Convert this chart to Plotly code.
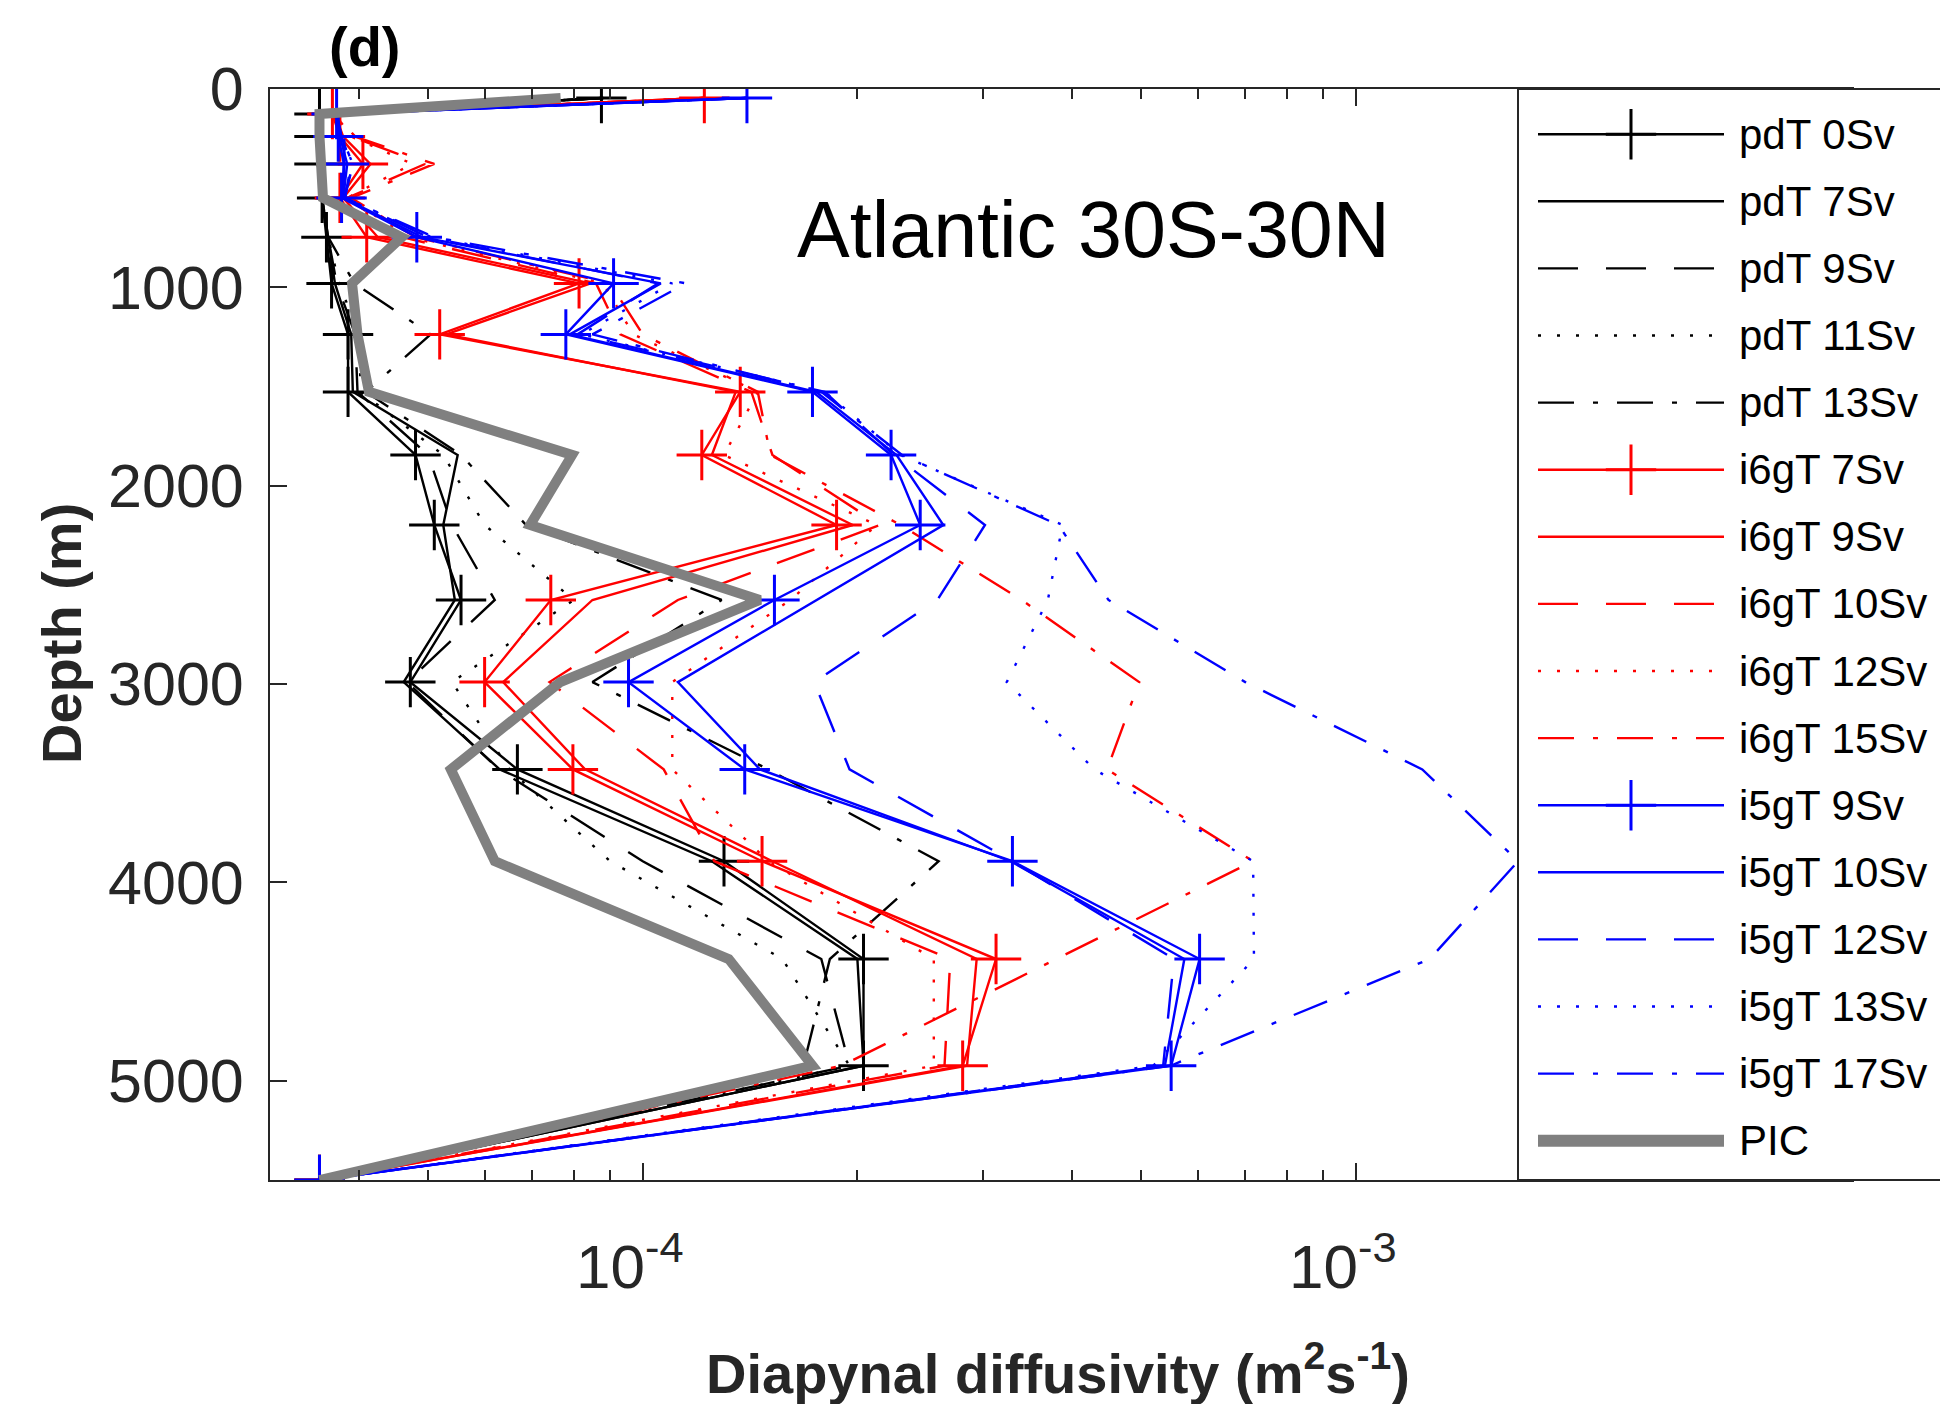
import math
import plotly.graph_objects as go

# ---------------- data ----------------
DEPTH_M = [45, 126, 240, 378, 549, 747, 980, 1237, 1527, 1845, 2198, 2576, 2990, 3430, 3893, 4386, 4924, 5500]

PDT_0SV = [8.75e-5, 3.52e-5, 3.52e-5, 3.52e-5, 3.55e-5, 3.60e-5, 3.66e-5, 3.86e-5, 3.86e-5, 4.80e-5, 5.10e-5, 5.56e-5, 4.72e-5, 6.67e-5, 1.30e-4, 2.04e-4, 2.04e-4, 3.52e-5]
PDT_7SV = [8.80e-5, 3.50e-5, 3.50e-5, 3.50e-5, 3.55e-5, 3.62e-5, 3.70e-5, 3.90e-5, 3.92e-5, 5.50e-5, 5.25e-5, 5.45e-5, 4.62e-5, 6.30e-5, 1.25e-4, 2.00e-4, 2.04e-4, 3.52e-5]
PDT_9SV = [8.80e-5, 3.50e-5, 3.50e-5, 3.50e-5, 3.55e-5, 3.62e-5, 3.72e-5, 3.95e-5, 3.98e-5, 5.00e-5, 5.40e-5, 6.20e-5, 4.67e-5, 6.28e-5, 1.00e-4, 1.78e-4, 1.95e-4, 3.52e-5]
PDT_11SV = [8.80e-5, 3.50e-5, 3.50e-5, 3.50e-5, 3.55e-5, 3.62e-5, 3.75e-5, 4.00e-5, 4.02e-5, 5.25e-5, 6.00e-5, 8.00e-5, 5.40e-5, 6.50e-5, 9.00e-5, 1.57e-4, 1.95e-4, 3.52e-5]
PDT_13SV = [8.80e-5, 3.50e-5, 3.50e-5, 3.50e-5, 3.55e-5, 3.62e-5, 3.94e-5, 5.04e-5, 4.09e-5, 5.56e-5, 6.86e-5, 1.29e-4, 8.50e-5, 1.50e-4, 2.60e-4, 1.83e-4, 1.68e-4, 3.52e-5]

I6GT_7SV = [1.22e-4, 3.67e-5, 3.76e-5, 4.05e-5, 3.76e-5, 4.10e-5, 8.14e-5, 5.19e-5, 1.37e-4, 1.21e-4, 1.87e-4, 7.43e-5, 6.00e-5, 7.98e-5, 1.47e-4, 3.13e-4, 2.81e-4, 3.52e-5]
I6GT_9SV = [1.22e-4, 3.70e-5, 3.80e-5, 4.15e-5, 3.80e-5, 4.25e-5, 8.45e-5, 5.30e-5, 1.35e-4, 1.25e-4, 1.97e-4, 8.50e-5, 6.37e-5, 8.30e-5, 1.52e-4, 2.94e-4, 2.85e-4, 3.52e-5]
I6GT_10SV = [1.22e-4, 3.70e-5, 3.90e-5, 4.95e-5, 3.85e-5, 4.60e-5, 8.60e-5, 9.30e-5, 1.42e-4, 1.52e-4, 2.15e-4, 1.12e-4, 7.40e-5, 1.07e-4, 1.26e-4, 2.70e-4, 2.65e-4, 3.52e-5]
I6GT_12SV = [1.22e-4, 3.70e-5, 3.90e-5, 4.75e-5, 3.85e-5, 4.70e-5, 8.80e-5, 9.70e-5, 1.45e-4, 1.30e-4, 2.13e-4, 1.61e-4, 1.10e-4, 1.10e-4, 1.50e-4, 2.56e-4, 2.56e-4, 3.52e-5]
I6GT_15SV = [1.22e-4, 3.70e-5, 3.95e-5, 5.10e-5, 3.90e-5, 4.80e-5, 9.00e-5, 1.00e-4, 1.45e-4, 1.51e-4, 2.30e-4, 3.40e-4, 4.97e-4, 4.48e-4, 7.18e-4, 3.80e-4, 1.90e-4, 3.52e-5]

I5GT_9SV = [1.40e-4, 3.72e-5, 3.74e-5, 3.81e-5, 3.78e-5, 4.82e-5, 9.10e-5, 7.80e-5, 1.73e-4, 2.23e-4, 2.45e-4, 1.53e-4, 9.55e-5, 1.39e-4, 3.30e-4, 6.04e-4, 5.51e-4, 3.52e-5]
I5GT_10SV = [1.40e-4, 3.72e-5, 3.76e-5, 3.85e-5, 3.80e-5, 4.90e-5, 1.06e-4, 7.90e-5, 1.75e-4, 2.27e-4, 2.64e-4, 1.75e-4, 1.12e-4, 1.46e-4, 3.28e-4, 5.75e-4, 5.40e-4, 3.52e-5]
I5GT_12SV = [1.40e-4, 3.72e-5, 3.78e-5, 3.90e-5, 3.82e-5, 5.00e-5, 1.05e-4, 8.10e-5, 1.80e-4, 2.25e-4, 3.02e-4, 2.59e-4, 1.74e-4, 1.95e-4, 3.30e-4, 5.56e-4, 5.37e-4, 3.52e-5]
I5GT_13SV = [1.40e-4, 3.72e-5, 3.78e-5, 3.92e-5, 3.82e-5, 5.05e-5, 1.10e-4, 8.20e-5, 1.80e-4, 2.30e-4, 3.88e-4, 3.70e-4, 3.24e-4, 4.30e-4, 7.18e-4, 7.20e-4, 5.20e-4, 3.52e-5]
I5GT_17SV = [1.40e-4, 3.72e-5, 3.78e-5, 3.92e-5, 3.82e-5, 5.10e-5, 1.15e-4, 8.50e-5, 1.78e-4, 2.31e-4, 3.83e-4, 4.50e-4, 7.00e-4, 1.24e-3, 1.69e-3, 1.27e-3, 5.50e-4, 3.52e-5]

PIC = [7.67e-5, 3.52e-5, 3.52e-5, 3.54e-5, 3.56e-5, 4.59e-5, 3.91e-5, 3.98e-5, 4.13e-5, 7.96e-5, 6.95e-5, 1.46e-4, 7.66e-5, 5.38e-5, 6.20e-5, 1.32e-4, 1.73e-4, 3.52e-5]

SERIES_NAMES = ["pdT 0Sv", "pdT 7Sv", "pdT 9Sv", "pdT 11Sv", "pdT 13Sv",
                "i6gT 7Sv", "i6gT 9Sv", "i6gT 10Sv", "i6gT 12Sv", "i6gT 15Sv",
                "i5gT 9Sv", "i5gT 10Sv", "i5gT 12Sv", "i5gT 13Sv", "i5gT 17Sv", "PIC"]
SERIES_VALUES = [PDT_0SV, PDT_7SV, PDT_9SV, PDT_11SV, PDT_13SV,
                 I6GT_7SV, I6GT_9SV, I6GT_10SV, I6GT_12SV, I6GT_15SV,
                 I5GT_9SV, I5GT_10SV, I5GT_12SV, I5GT_13SV, I5GT_17SV, PIC]

X_MIN, X_MAX = 3e-5, 5e-3
Y_TICKS = [0, 1000, 2000, 3000, 4000, 5000]
X_TICKS = [1e-4, 1e-3]
X_TICK_TEXT = ["10<sup>-4</sup>", "10<sup>-3</sup>"]
X_MINOR = [4e-5, 5e-5, 6e-5, 7e-5, 8e-5, 9e-5, 2e-4, 3e-4, 4e-4, 5e-4, 6e-4, 7e-4, 8e-4, 9e-4]

# ---------------- styles ----------------
DASH = "40px,28px"
DOT = "3px,16px"
DASHDOT = "36px,19px,5px,19px"
BLACK, RED, BLUE, GRAY = "#000000", "#ff0000", "#0000ff", "#808080"
STYLES = [
    (BLACK, "solid", True), (BLACK, "solid", False), (BLACK, DASH, False), (BLACK, DOT, False), (BLACK, DASHDOT, False),
    (RED, "solid", True), (RED, "solid", False), (RED, DASH, False), (RED, DOT, False), (RED, DASHDOT, False),
    (BLUE, "solid", True), (BLUE, "solid", False), (BLUE, DASH, False), (BLUE, DOT, False), (BLUE, DASHDOT, False),
    (GRAY, "solid", False),
]
THIN = 2.4

# the page body has an 8 px margin: layout positions below are screen pixels minus that offset
OFF = 8
W, H = 1948 - 2 * OFF, 1412 - 2 * OFF
PL, PR, PT, PB = 270 - OFF, 1854 - OFF, 89 - OFF, 1180 - OFF   # plot area
LEG_X0 = 1518 - OFF                                           # legend box left edge
AX_COLOR = "#262626"
FONT = "Liberation Sans, Arial, Helvetica, sans-serif"


def px_x(x):
    return (x - PL) / (PR - PL)


def px_y(y):
    return (PB - y) / (PB - PT)


fig = go.Figure()

for name, vals, (color, dash, marker) in zip(SERIES_NAMES, SERIES_VALUES, STYLES):
    is_pic = name == "PIC"
    fig.add_trace(go.Scatter(
        x=vals, y=DEPTH_M, name=name,
        mode="lines+markers" if marker else "lines",
        line=dict(color=color, width=10 if is_pic else THIN, dash=dash),
        marker=dict(symbol="cross-thin", size=36, line=dict(color=color, width=3)) if marker else None,
        showlegend=False, xaxis="x", yaxis="y",
    ))

# ---------------- custom legend (long line samples) ----------------
LEG_LINE_X0, LEG_LINE_X1, LEG_TEXT_X = 1538 - OFF, 1724 - OFF, 1737 - OFF
LEG_Y0, LEG_DY = 134.2 - OFF, 67.1
for i, (name, (color, dash, marker)) in enumerate(zip(SERIES_NAMES, STYLES)):
    yy = LEG_Y0 + LEG_DY * i
    is_pic = name == "PIC"
    fig.add_trace(go.Scatter(
        x=[LEG_LINE_X0, LEG_LINE_X1], y=[yy, yy], mode="lines",
        line=dict(color=color, width=12 if is_pic else THIN, dash=dash),
        showlegend=False, hoverinfo="skip", xaxis="x2", yaxis="y2",
    ))
    if marker:
        fig.add_trace(go.Scatter(
            x=[(LEG_LINE_X0 + LEG_LINE_X1) / 2], y=[yy], mode="markers",
            marker=dict(symbol="cross-thin", size=36, line=dict(color=color, width=3)),
            showlegend=False, hoverinfo="skip", xaxis="x2", yaxis="y2",
        ))
    fig.add_annotation(x=LEG_TEXT_X, y=yy, xref="x2", yref="y2", text=name, showarrow=False,
                       xanchor="left", yanchor="middle", font=dict(family=FONT, size=42, color="#000000"))

fig.add_shape(type="rect", xref="paper", yref="paper", x0=px_x(LEG_X0), x1=px_x(W + 20), y0=0, y1=1,
              line=dict(color=AX_COLOR, width=2), fillcolor="white", layer="below")

# ---------------- x tick labels (slightly left of their ticks, as in the reference) ----------------
for v, t in zip(X_TICKS, X_TICK_TEXT):
    fig.add_annotation(x=math.log10(v), y=0, xref="x", yref="paper", text=t, showarrow=False,
                       xanchor="center", yanchor="top", xshift=-13, yshift=-41,
                       font=dict(family=FONT, size=62, color=AX_COLOR))

# ---------------- text ----------------
fig.add_annotation(x=px_x(365 - OFF), y=px_y(47 - OFF), xref="paper", yref="paper", text="<b>(d)</b>",
                   showarrow=False, xanchor="center", yanchor="middle",
                   font=dict(family=FONT, size=56, color="#000000"))
fig.add_annotation(x=px_x(1093 - OFF), y=px_y(230 - OFF), xref="paper", yref="paper", text="Atlantic 30S-30N",
                   showarrow=False, xanchor="center", yanchor="middle",
                   font=dict(family=FONT, size=79, color="#000000"))
fig.add_annotation(x=px_x(61 - OFF), y=px_y(634 - OFF), xref="paper", yref="paper", text="<b>Depth (m)</b>",
                   showarrow=False, textangle=-90, xanchor="center", yanchor="middle",
                   font=dict(family=FONT, size=56, color=AX_COLOR))
fig.add_annotation(x=px_x(1058 - OFF), y=px_y(1369 - OFF), xref="paper", yref="paper",
                   text="<b>Diapynal diffusivity (m<sup>2</sup>s<sup>-1</sup>)</b>", showarrow=False,
                   xanchor="center", yanchor="middle", font=dict(family=FONT, size=56, color=AX_COLOR))
fig.add_annotation(x=px_x(10 - OFF), y=px_y(1252 - OFF), xref="paper", yref="paper", text="0", showarrow=False,
                   xanchor="right", yanchor="middle", font=dict(family=FONT, size=60, color=AX_COLOR))

fig.update_layout(
    width=W, height=H,
    margin=dict(l=PL, r=W - PR, t=PT, b=H - PB, pad=0),
    paper_bgcolor="white", plot_bgcolor="rgba(0,0,0,0)",
    showlegend=False,
    xaxis=dict(type="log", range=[math.log10(X_MIN), math.log10(X_MAX)], domain=[0, 1],
               tickvals=X_TICKS, showticklabels=False, ticks="inside", ticklen=17, tickwidth=2,
               tickcolor=AX_COLOR, showline=True, linecolor=AX_COLOR, linewidth=2, mirror="ticks",
               showgrid=False, zeroline=False,
               minor=dict(tickvals=X_MINOR, ticks="inside", ticklen=10, tickwidth=2, tickcolor=AX_COLOR,
                          showgrid=False)),
    yaxis=dict(range=[5500, 0], domain=[0, 1], tickvals=Y_TICKS, ticks="inside", ticklen=17, tickwidth=2,
               tickcolor=AX_COLOR, showline=True, linecolor=AX_COLOR, linewidth=2, mirror=False,
               showgrid=False, zeroline=False, ticklabelstandoff=12,
               tickfont=dict(family=FONT, size=61, color=AX_COLOR)),
    xaxis2=dict(domain=[px_x(LEG_X0), 1], range=[LEG_X0, PR], visible=False, anchor="y2", fixedrange=True),
    yaxis2=dict(domain=[0, 1], range=[PB, PT], visible=False, anchor="x2", fixedrange=True),
)

fig.write_html("out.html")
